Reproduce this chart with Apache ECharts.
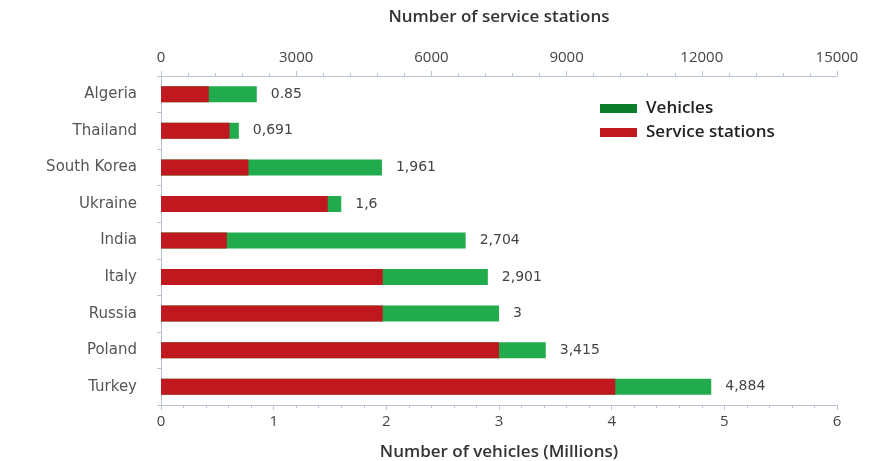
<!DOCTYPE html>
<html><head><meta charset="utf-8">
<script src="https://cdn.jsdelivr.net/npm/echarts@6/dist/echarts.min.js"></script>
<style>html,body{margin:0;padding:0;background:#fff}#c{width:869px;height:461px}</style>
</head><body><div id="c"></div>
<script>
const countries = ['Algeria','Thailand','South Korea','Ukraine','India','Italy','Russia','Poland','Turkey'];
const vehicles = [0.85, 0.691, 1.961, 1.6, 2.704, 2.901, 3, 3.415, 4.884];
const vehicleLabels = ['0.85','0,691','1,961','1,6','2,704','2,901','3','3,415','4,884'];
const stations = [1060, 1520, 1940, 3700, 1460, 4920, 4920, 7500, 10080];
const vehicleTicks = [0,1,2,3,4,5,6];
const stationTicks = [0,3000,6000,9000,12000,15000];

const chart = echarts.init(document.getElementById('c'));
const axisCol = '#b9c3cf';
chart.setOption({
  animation:false,
  backgroundColor:'#fff',
  grid:{left:161,right:32,top:76,bottom:56,containLabel:false,outerBoundsMode:'none'},
  legend:{
    orient:'vertical', left:595, top:95, itemWidth:37, itemHeight:9, itemGap:7,
    icon:'rect',
    textStyle:{fontFamily:'Open Sans',fontSize:17,fontWeight:600,color:'#222',padding:[0,0,0,4]},
    data:[{name:'Vehicles',itemStyle:{color:'#0b7d2c'}},{name:'Service stations',itemStyle:{color:'#c0181f'}}]
  },
  xAxis:[
    {type:'value',position:'bottom',min:vehicleTicks[0],max:vehicleTicks[vehicleTicks.length-1],interval:1,
     name:'Number of vehicles (Millions)',nameLocation:'middle',nameGap:39,
     nameTextStyle:{fontFamily:'Open Sans',fontSize:17,fontWeight:600,color:'#333'},
     axisLine:{show:true,lineStyle:{color:axisCol}},axisTick:{show:true,length:5,lineStyle:{color:axisCol}},
     minorTick:{show:true,splitNumber:5,length:3,lineStyle:{color:axisCol}},
     splitLine:{show:false},axisLabel:{fontFamily:'Open Sans',fontSize:15,color:'#444',margin:9}},
    {type:'value',position:'top',min:stationTicks[0],max:stationTicks[stationTicks.length-1],interval:3000,
     name:'Number of service stations',nameLocation:'middle',nameGap:50,
     nameTextStyle:{fontFamily:'Open Sans',fontSize:17,fontWeight:600,color:'#333'},
     axisLine:{show:true,lineStyle:{color:axisCol}},axisTick:{show:true,length:5,lineStyle:{color:axisCol}},
     minorTick:{show:true,splitNumber:5,length:3,lineStyle:{color:axisCol}},
     splitLine:{show:false},axisLabel:{fontFamily:'Open Sans',fontSize:15,color:'#444',margin:11,
       formatter:v=>String(v)}}
  ],
  yAxis:{type:'category',data:countries,inverse:true,
    axisLine:{show:true,lineStyle:{color:axisCol}},axisTick:{show:true,length:4,lineStyle:{color:axisCol}},
    axisLabel:{fontFamily:'DejaVu Sans',fontSize:15,color:'#555',margin:24}},
  series:[
    {name:'Vehicles',type:'bar',xAxisIndex:0,data:vehicles,barWidth:16,barGap:'-100%',
     itemStyle:{color:'#22ab4c'},
     label:{show:true,position:'right',distance:14,fontFamily:'DejaVu Sans',fontSize:14,color:'#444',
       formatter:p=>vehicleLabels[p.dataIndex]}},
    {name:'Service stations',type:'bar',xAxisIndex:1,data:stations,barWidth:16,z:3,
     itemStyle:{color:'#c0181f'}}
  ]
});
</script></body></html>
